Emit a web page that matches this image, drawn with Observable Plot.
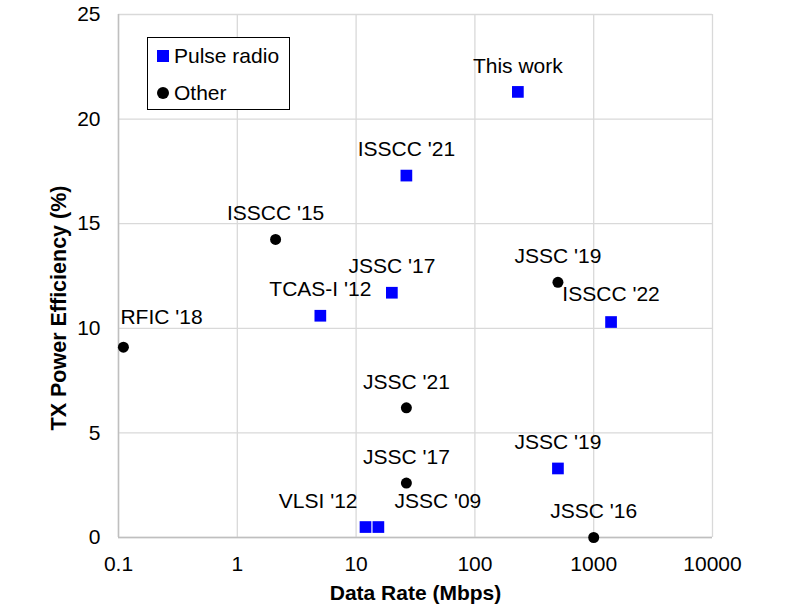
<!DOCTYPE html>
<html>
<head>
<meta charset="utf-8">
<script src="https://cdn.jsdelivr.net/npm/d3@7"></script>
<script src="https://cdn.jsdelivr.net/npm/@observablehq/plot@0.6"></script>
<style>
  body { margin: 0; background: #fff; }
  #wrap { position: relative; width: 789px; height: 610px; font-family: "Liberation Sans", Arial, sans-serif; }
  #legend { position: absolute; left: 147px; top: 37px; width: 141px; height: 71px; border: 1.3px solid #000; background: #fff; font-size: 21px; color: #000; white-space: nowrap; }
  #legend .row { position: absolute; left: 9px; height: 24px; display: flex; align-items: center; }
  #legend .sq { width: 12px; height: 12px; background: #0000ff; margin-right: 5px; }
  #legend .ci { width: 12px; height: 12px; border-radius: 50%; background: #000; margin-right: 5px; }
</style>
</head>
<body>
<div id="wrap"></div>
<script>
// ---- data ----
const labels = ["This work", "ISSCC '21", "ISSCC '15", "JSSC '17", "TCAS-I '12", "RFIC '18", "JSSC '19", "ISSCC '22", "JSSC '21", "JSSC '19", "JSSC '17", "VLSI '12", "JSSC '09", "JSSC '16"];
const dataRate = [230, 26.5, 2.1, 20, 5, 0.11, 500, 1400, 26.5, 500, 26.5, 12, 15.4, 1000];
const efficiency = [21.3, 17.3, 14.25, 11.7, 10.6, 9.1, 12.2, 10.3, 6.2, 3.3, 2.6, 0.5, 0.5, 0];
const kind = ["Pulse radio", "Pulse radio", "Other", "Pulse radio", "Pulse radio", "Other", "Other", "Pulse radio", "Other", "Pulse radio", "Other", "Pulse radio", "Pulse radio", "Other"];
const xTicks = [0.1, 1, 10, 100, 1000, 10000];
const yTicks = [0, 5, 10, 15, 20, 25];
const legendItems = ["Pulse radio", "Other"];
const xTitle = "Data Rate (Mbps)";
const yTitle = "TX Power Efficiency (%)";

const points = labels.map((l, i) => ({label: l, x: dataRate[i], y: efficiency[i], kind: kind[i], i}));
const pulse = points.filter(d => d.kind === "Pulse radio");
const other = points.filter(d => d.kind === "Other");

// label placement groups
const special = {5: "rfic", 11: "vlsi", 12: "jssc09", 7: "isscc22"};
const centered = points.filter(d => !(d.i in special));

const font = "Liberation Sans, Arial, sans-serif";
const FS = 21;
const chart = Plot.plot({
  width: 789,
  height: 610,
  marginLeft: 118,
  marginRight: 77,
  marginTop: 14,
  marginBottom: 73,
  style: {fontFamily: font, fontSize: FS + "px", color: "#000", background: "#fff"},
  x: {type: "log", domain: [0.1, 10000], ticks: xTicks, tickFormat: d => String(d), label: xTitle},
  y: {domain: [0, 25], ticks: yTicks, label: null},
  marks: [
    Plot.gridX(xTicks, {stroke: "#d9d9d9", strokeOpacity: 1, strokeWidth: 1.3}),
    Plot.gridY(yTicks, {stroke: "#d9d9d9", strokeOpacity: 1, strokeWidth: 1.3}),
    Plot.ruleX([0.1], {stroke: "#bfbfbf", strokeWidth: 1.5}),
    Plot.ruleY([0], {stroke: "#bfbfbf", strokeWidth: 1.5}),
    Plot.axisX({ticks: xTicks, tickFormat: d => String(d), tickSize: 0, tickPadding: 19, fontSize: FS, label: xTitle, labelAnchor: "center", labelOffset: 62, labelArrow: "none"}),
    Plot.axisY({ticks: yTicks, tickSize: 0, tickPadding: 18, fontSize: FS, label: null}),
    Plot.dot(pulse, {x: "x", y: "y", symbol: "square", r: 6.6, fill: "#0000ff", stroke: null}),
    Plot.dot(other, {x: "x", y: "y", symbol: "circle", r: 5.5, fill: "#000", stroke: null}),
    Plot.text(centered, {x: "x", y: "y", text: "label", dy: -26, fontSize: FS, fill: "#000"}),
    Plot.text(points.filter(d => special[d.i] === "isscc22"), {x: "x", y: "y", text: "label", dy: -28, fontSize: FS, fill: "#000"}),
    Plot.text(points.filter(d => special[d.i] === "rfic"), {x: "x", y: "y", text: "label", textAnchor: "start", dx: -3, dy: -30, fontSize: FS, fill: "#000"}),
    Plot.text(points.filter(d => special[d.i] === "vlsi"), {x: "x", y: "y", text: "label", textAnchor: "end", dx: -8, dy: -26, fontSize: FS, fill: "#000"}),
    Plot.text(points.filter(d => special[d.i] === "jssc09"), {x: "x", y: "y", text: "label", textAnchor: "start", dx: 16, dy: -26, fontSize: FS, fill: "#000"})
  ]
});
d3.select(chart).selectAll("g[aria-label='x-axis label'] text").attr("font-weight", "bold");
// y-axis title, placed like the reference
d3.select(chart).append("text")
  .attr("transform", "translate(58,308) rotate(-90)")
  .attr("text-anchor", "middle")
  .attr("dy", "0.35em")
  .attr("font-weight", "bold")
  .attr("font-size", 21.5)
  .attr("font-family", font)
  .attr("fill", "#000")
  .text(yTitle);
const wrap = document.getElementById("wrap");
wrap.appendChild(chart);

// legend overlay
const legend = document.createElement("div");
legend.id = "legend";
legendItems.forEach((name, k) => {
  const row = document.createElement("div");
  row.className = "row";
  row.style.top = (k === 0 ? 6 : 43) + "px";
  const sw = document.createElement("span");
  sw.className = k === 0 ? "sq" : "ci";
  const tx = document.createElement("span");
  tx.textContent = name;
  row.appendChild(sw); row.appendChild(tx);
  legend.appendChild(row);
});
wrap.appendChild(legend);
</script>
</body>
</html>
